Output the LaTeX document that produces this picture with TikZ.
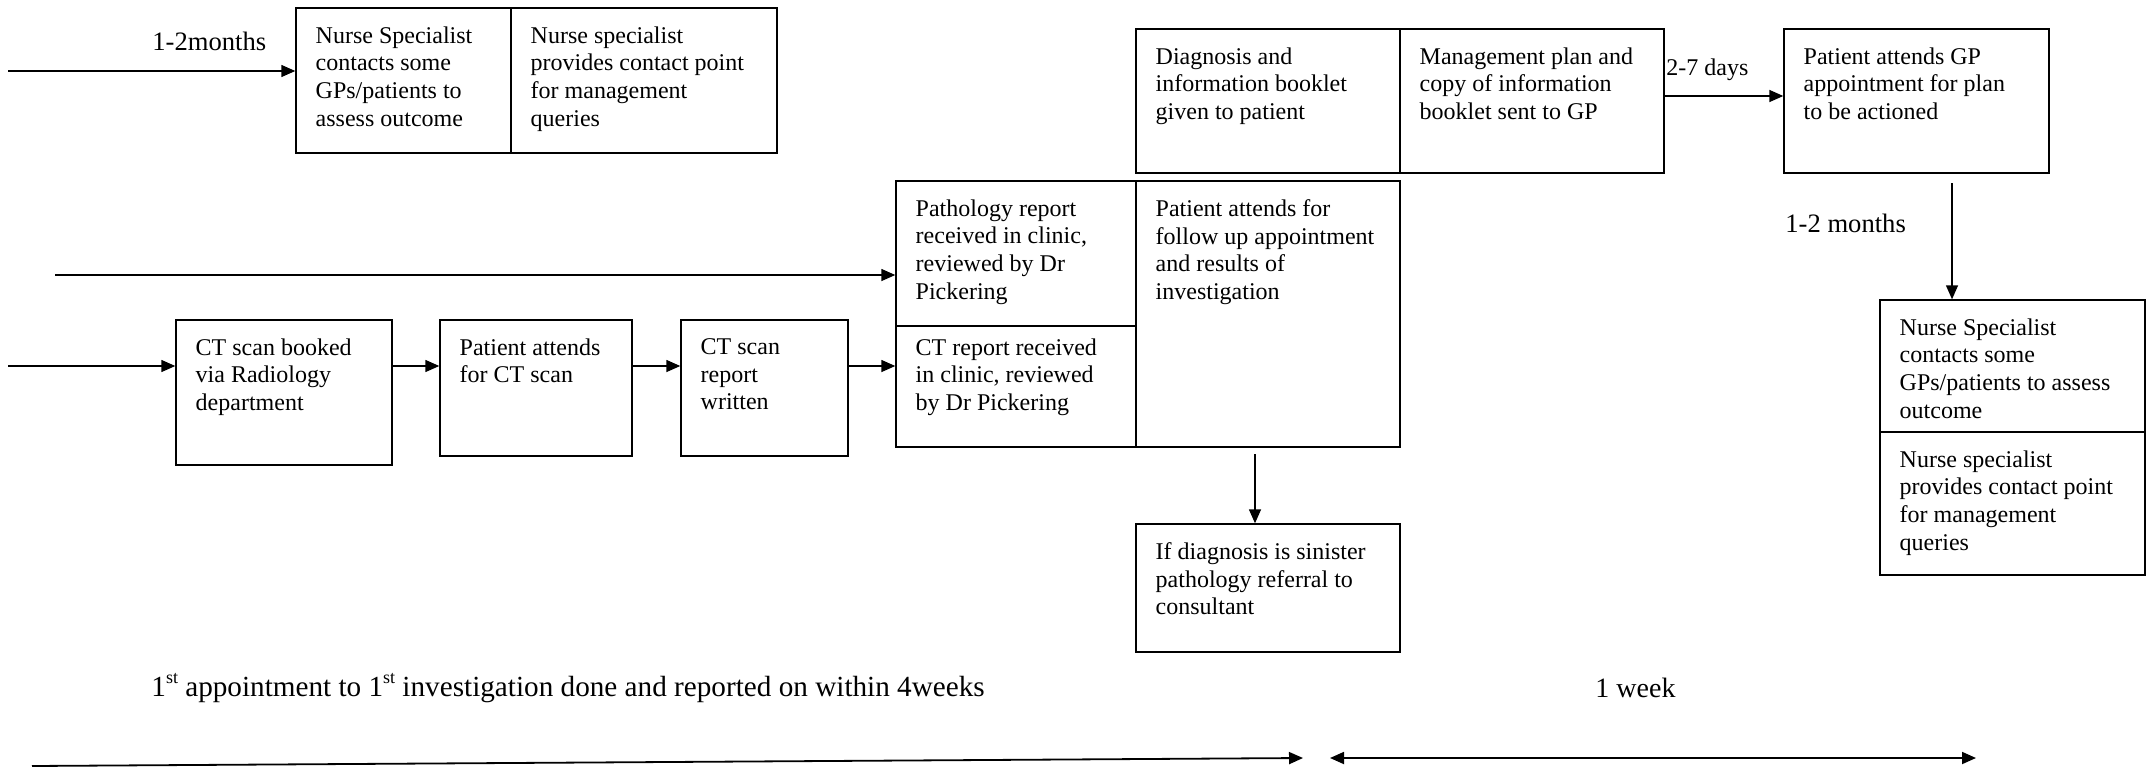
\documentclass[tikz,border=0pt]{standalone}
\usepackage{fontspec}
\setmainfont{Liberation Serif}
\usetikzlibrary{arrows.meta,fit,calc}

\tikzset{
  box/.style={draw, line width=0.7pt, inner sep=0pt},
  txt/.style={anchor=north west, inner sep=0pt, align=left,
              font=\fontsize{12}{13.8}\selectfont},
  lab/.style={anchor=west, inner sep=0pt},
  tip/.tip={Triangle[length=7pt,width=6pt]},
  arr/.style={-tip, line width=0.7pt},
  span/.style={line width=0.9pt},
}

\begin{document}
\begin{tikzpicture}[x=0.5pt, y=-0.5pt]
\useasboundingbox (0,0) rectangle (2156,771);

% ---- boxes (corners in picture units, y growing downwards)
\node[box, fit={(296,8) (511,153)}]    (nsA) {};
\node[box, fit={(511,8) (777,153)}]    (nsB) {};
\node[box, fit={(1136,29) (1400,173)}] (diag) {};
\node[box, fit={(1400,29) (1664,173)}] (mgmt) {};
\node[box, fit={(1784,29) (2049,173)}] (gp) {};
\node[box, fit={(896,181) (1136,326)}] (path) {};
\node[box, fit={(896,326) (1136,447)}] (ctrep) {};
\node[box, fit={(1136,181) (1400,447)}] (follow) {};
\node[box, fit={(176,320) (392,465)}]  (ctbook) {};
\node[box, fit={(440,320) (632,456)}]  (ctattend) {};
\node[box, fit={(681,320) (848,456)}]  (ctwritten) {};
\node[box, fit={(1136,524) (1400,652)}] (sinister) {};
\node[box, fit={(1880,300) (2145,432)}] (nsC) {};
\node[box, fit={(1880,432) (2145,575)}] (nsD) {};

% ---- box texts
\node[txt] (nsAt) at ([shift={(20,19)}]nsA.north west)
  {Nurse Specialist\\contacts some\\GPs/patients to\\assess outcome};
\node[txt] (nsBt) at ([shift={(20,19)}]nsB.north west)
  {Nurse specialist\\provides contact point\\for management\\queries};
\node[txt] (diagt) at ([shift={(20,19)}]diag.north west)
  {Diagnosis and\\information booklet\\given to patient};
\node[txt] (mgmtt) at ([shift={(20,19)}]mgmt.north west)
  {Management plan and\\copy of information\\booklet sent to GP};
\node[txt] (gpt) at ([shift={(20,19)}]gp.north west)
  {Patient attends GP\\appointment for plan\\to be actioned};
\node[txt] (patht) at ([shift={(20,19)}]path.north west)
  {Pathology report\\received in clinic,\\reviewed by Dr\\Pickering};
\node[txt] (ctrept) at ([shift={(20,13)}]ctrep.north west)
  {CT report received\\in clinic, reviewed\\by Dr Pickering};
\node[txt] (followt) at ([shift={(20,19)}]follow.north west)
  {Patient attends for\\follow up appointment\\and results of\\investigation};
\node[txt] (ctbookt) at ([shift={(20,19)}]ctbook.north west)
  {CT scan booked\\via Radiology\\department};
\node[txt] (ctattendt) at ([shift={(20,19)}]ctattend.north west)
  {Patient attends\\for CT scan};
\node[txt] (ctwrittent) at ([shift={(20,19)}]ctwritten.north west)
  {CT scan\\report\\written};
\node[txt] (sinistert) at ([shift={(20,19)}]sinister.north west)
  {If diagnosis is sinister\\pathology referral to\\consultant};
\node[txt] (nsCt) at ([shift={(20,19)}]nsC.north west)
  {Nurse Specialist\\contacts some\\GPs/patients to assess\\outcome};
\node[txt] (nsDt) at ([shift={(20,19)}]nsD.north west)
  {Nurse specialist\\provides contact point\\for management\\queries};

% ---- free labels
\newcommand\smallsup[1]{\raisebox{0.45em}{\fontsize{9}{10}\selectfont #1}}
\node[lab, font=\fontsize{13.3}{16}\selectfont] (lbA) at (152,41) {1-2months};
\node[lab, font=\fontsize{12}{14}\selectfont] (lbB) at (1666,70) {2-7 days};
\node[lab, font=\fontsize{13.3}{16}\selectfont] (lbC) at (1785,223) {1-2 months};
\node[lab, font=\fontsize{14.6}{17}\selectfont] (lbD) at (151,688)
  {1\smallsup{st} appointment to 1\smallsup{st} investigation done and reported on within 4weeks};
\node[lab, font=\fontsize{14}{17}\selectfont] (lbE) at (1595,688) {1 week};

% ---- loose ends of connectors
\coordinate (in1) at (8,71);
\coordinate (in2) at (55,275);
\coordinate (in3) at (8,366);
\coordinate (g1) at (1952,183);
\coordinate (f1) at (1255,454);
\coordinate (b1) at (32,766);
\coordinate (b2) at (1303,758);
\coordinate (w1) at (1330,758);
\coordinate (w2) at (1976,758);

% ---- connectors
\draw[arr] (in1) -- (in1 -| nsA.west);
\draw[arr] (in2) -- (in2 -| path.west);
\draw[arr] (in3) -- (in3 -| ctbook.west);
\draw[arr] (in3 -| ctbook.east) -- (in3 -| ctattend.west);
\draw[arr] (in3 -| ctattend.east) -- (in3 -| ctwritten.west);
\draw[arr] (in3 -| ctwritten.east) -- (in3 -| ctrep.west);
\draw[arr] ([yshift=2.5pt]mgmt.east) -- ([yshift=2.5pt]mgmt.east -| gp.west);
\draw[arr] (g1) -- (g1 |- nsC.north);
\draw[arr] (f1) -- (f1 |- sinister.north);

% ---- time spans
\draw[arr, span] (b1) -- (b2);
\draw[tip-tip, span] (w1) -- (w2);
\end{tikzpicture}
\end{document}
